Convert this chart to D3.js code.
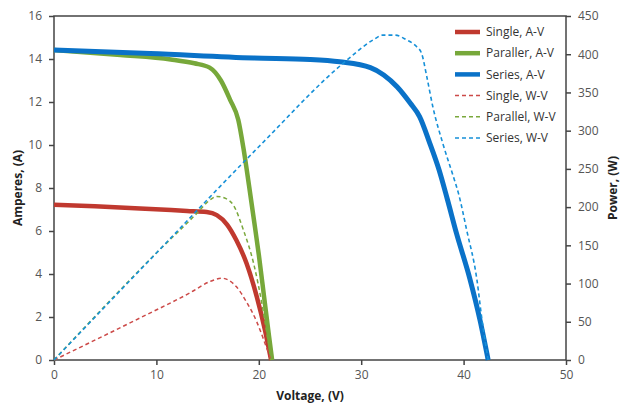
<!DOCTYPE html>
<html>
<head>
<meta charset="utf-8">
<script src="https://cdn.jsdelivr.net/npm/d3@7"></script>
<style>
  body { margin: 0; background: #fff; }
  text { font-family: "Open Sans", "Noto Sans", sans-serif; }
</style>
</head>
<body>
<svg id="chart" width="626" height="408"></svg>
<script>
// values
const singleAV = [[0,7.22],[4,7.15],[8.4,7.05],[13,6.93],[14.9,6.88],[15.9,6.74],[16.9,6.3],[17.8,5.58],[18.8,4.5],[19.8,2.95],[20.6,1.4],[21.2,0]];
const parallelAV = [[0,14.42],[6.5,14.19],[11.4,13.98],[13.7,13.8],[15.2,13.6],[16.3,13.0],[17.2,12.1],[18.0,11.16],[18.5,9.85],[19.05,8.1],[19.5,6.6],[20.0,4.9],[20.5,3.0],[21.0,1.1],[21.3,0]];
const seriesAV = [[0,14.42],[9.4,14.26],[19.5,14.05],[25,13.98],[27.9,13.87],[30.9,13.6],[32.2,13.26],[33.5,12.71],[34.8,11.94],[35.7,11.32],[36.7,10.08],[37.6,8.85],[38.4,7.5],[39.3,5.9],[40.6,3.8],[41.6,1.86],[42.4,0]];
const singleWV = [[0,0],[8.4,55],[13.3,88],[15.3,103],[16.4,107],[17.1,104],[17.8,96],[18.8,76],[19.8,50],[20.6,22],[21.2,0]];
const parallelWV = [[0,0],[10,140],[14.1,194],[15.1,208],[15.9,214],[16.8,211],[17.5,203],[18.5,170],[19.5,126],[20.3,74],[20.9,26],[21.3,0]];
const seriesWV = [[0,0],[10,140],[20,279],[28.4,390],[31.2,419],[32.1,425],[33.3,425],[34.4,419],[35.4,410],[35.9,401],[36.4,371],[37.0,331],[38.0,282],[39.0,240],[39.5,218],[40.3,170],[41.3,105],[41.8,52],[42.4,0]];

const xTicks = [0,10,20,30,40,50];
const yTicks = [0,2,4,6,8,10,12,14,16];
const y2Ticks = [0,50,100,150,200,250,300,350,400,450];

const legendNames = ["Single, A-V","Paraller, A-V","Series, A-V","Single, W-V","Parallel, W-V","Series, W-V"];

const mLeft = 54, mRight = 566, mTop = 16, mBottom = 360;
const svg = d3.select("#chart");

const x = d3.scaleLinear().domain([0,50]).range([mLeft,mRight]);
const y = d3.scaleLinear().domain([0,16]).range([mBottom,mTop]);
const y2 = d3.scaleLinear().domain([0,450]).range([mBottom,mTop]);

const series = [
  {data: singleAV, scale: y, color: "#c0392f", width: 4.5, dash: null},
  {data: parallelAV, scale: y, color: "#77a83a", width: 4.5, dash: null},
  {data: seriesAV, scale: y, color: "#0a72c8", width: 5, dash: null},
  {data: singleWV, scale: y2, color: "#cc4a48", width: 1.5, dash: "4,3"},
  {data: parallelWV, scale: y2, color: "#7aa83c", width: 1.5, dash: "4,3"},
  {data: seriesWV, scale: y2, color: "#1690d8", width: 1.6, dash: "4,3"}
];

const axisColor = "#444";
const labColor = "#555";

// frame
svg.append("rect")
  .attr("x", mLeft).attr("y", mTop)
  .attr("width", mRight-mLeft).attr("height", mBottom-mTop)
  .attr("fill", "none").attr("stroke", axisColor).attr("stroke-width", 1.5);

function styleAxis(g) {
  g.select(".domain").remove();
  g.selectAll(".tick line").attr("stroke", axisColor).attr("stroke-width", 1.5);
  g.selectAll(".tick text").attr("fill", labColor).style("font-size", "12px")
    .style("font-family", "'Open Sans', 'Noto Sans', sans-serif");
}

svg.append("g").attr("transform", `translate(0,${mBottom})`)
  .call(d3.axisBottom(x).tickValues(xTicks).tickSize(5).tickPadding(5))
  .call(styleAxis);
svg.append("g").attr("transform", `translate(${mLeft},0)`)
  .call(d3.axisLeft(y).tickValues(yTicks).tickSize(5).tickPadding(7))
  .call(styleAxis);
svg.append("g").attr("transform", `translate(${mRight},0)`)
  .call(d3.axisRight(y2).tickValues(y2Ticks).tickSize(5).tickPadding(7))
  .call(styleAxis);

// lines (smoothed like the spreadsheet original)
const line = s => d3.line()
  .curve(d3.curveMonotoneX)
  .x(d => x(d[0])).y(d => s.scale(d[1]));
svg.append("g").selectAll("path")
  .data(series)
  .join("path")
  .attr("d", s => line(s)(s.data))
  .attr("fill", "none")
  .attr("stroke", s => s.color)
  .attr("stroke-width", s => s.width)
  .attr("stroke-dasharray", s => s.dash)
  .attr("stroke-linejoin", "round");

// legend
const legend = svg.append("g").selectAll("g")
  .data(series)
  .join("g")
  .attr("transform", (d, i) => `translate(455,${32 + i*21.2})`);
legend.append("line")
  .attr("x1", 0).attr("x2", 25)
  .attr("stroke", d => d.color)
  .attr("stroke-width", d => d.width > 2 ? 4.5 : 1.5)
  .attr("stroke-dasharray", d => d.dash);
legend.append("text")
  .attr("x", 31).attr("dy", "0.35em")
  .attr("fill", "#333").style("font-size", "12px")
  .text((d, i) => legendNames[i]);

// axis titles
svg.append("text")
  .attr("x", (mLeft+mRight)/2).attr("y", 400)
  .attr("text-anchor", "middle")
  .style("font-size", "12px").style("font-weight", "bold").attr("fill", "#222")
  .text("Voltage, (V)");
svg.append("text")
  .attr("transform", `translate(22,${(mTop+mBottom)/2}) rotate(-90)`)
  .attr("text-anchor", "middle")
  .style("font-size", "12px").style("font-weight", "bold").attr("fill", "#222")
  .text("Amperes, (A)");
svg.append("text")
  .attr("transform", `translate(617,${(mTop+mBottom)/2}) rotate(-90)`)
  .attr("text-anchor", "middle")
  .style("font-size", "12px").style("font-weight", "bold").attr("fill", "#222")
  .text("Power, (W)");
</script>
</body>
</html>
